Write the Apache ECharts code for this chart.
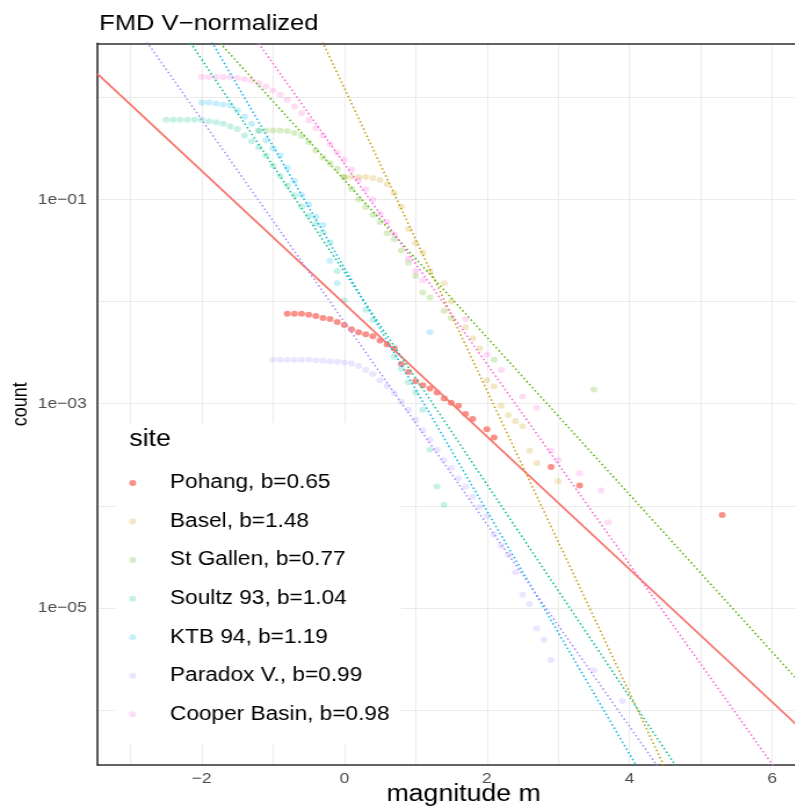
<!DOCTYPE html>
<html>
<head>
<meta charset="utf-8">
<script src="https://cdn.jsdelivr.net/npm/echarts@6/dist/echarts.min.js"></script>
<style>
html,body{margin:0;padding:0;background:#fff;overflow:hidden;}
#chart{width:686px;height:808px;transform:scaleX(1.16);transform-origin:0 0;}
</style>
</head>
<body>
<div id="chart"></div>
<script>
// ---------------- data ----------------
const siteNames = ['Pohang, b=0.65','Basel, b=1.48','St Gallen, b=0.77','Soultz 93, b=1.04','KTB 94, b=1.19','Paradox V., b=0.99','Cooper Basin, b=0.98'];
const bValues = [0.65, 1.48, 0.77, 1.04, 1.19, 0.99, 0.98];
// fitted Gutenberg-Richter intercepts: log10(count) at m = 0
const fitIntercepts = [-2.02, 0.09, -0.81, -1.71, -1.67, -2.20, -0.65];
const siteColors = ['#F8766D','#C49A00','#53B400','#00C094','#00B6EB','#A58AFF','#FB61D7'];

// observed normalized cumulative counts, as log10(count)
const pohangMag = [-0.8,-0.7,-0.6,-0.5,-0.4,-0.3,-0.2,-0.1,0.0,0.1,0.2,0.3,0.4,0.5,0.6,0.7,0.8,0.9,1.0,1.1,1.2,1.3,1.4,1.5,1.6,1.7,1.8,2.0,2.1,2.9,3.3,5.3];
const pohangLog = [-2.12,-2.12,-2.12,-2.13,-2.14,-2.16,-2.17,-2.20,-2.23,-2.27,-2.30,-2.32,-2.34,-2.38,-2.42,-2.46,-2.61,-2.69,-2.78,-2.82,-2.85,-2.89,-2.95,-2.99,-3.02,-3.10,-3.15,-3.25,-3.33,-3.62,-3.80,-4.09];

const baselMag = [0.0,0.1,0.2,0.3,0.4,0.5,0.6,0.7,0.8,0.9,1.0,1.1,1.2,1.4,1.5,1.7,1.8,1.9,2.0,2.1,2.2,2.3,2.4,2.5,2.6,2.7,3.0];
const baselLog = [-0.78,-0.78,-0.78,-0.78,-0.79,-0.81,-0.85,-0.94,-1.07,-1.29,-1.43,-1.52,-1.70,-1.82,-2.00,-2.25,-2.36,-2.46,-2.77,-2.83,-3.02,-3.11,-3.17,-3.22,-3.46,-3.58,-3.76];

const gallenMag = [-1.2,-1.1,-1.0,-0.9,-0.8,-0.7,-0.6,-0.5,-0.4,-0.3,-0.2,-0.1,0.0,0.1,0.2,0.3,0.4,0.5,0.6,0.7,0.8,0.9,1.0,1.1,1.2,1.4,1.5,2.1,3.5];
const gallenLog = [-0.325,-0.325,-0.325,-0.325,-0.33,-0.35,-0.38,-0.44,-0.52,-0.59,-0.645,-0.70,-0.78,-0.895,-1.0,-1.075,-1.15,-1.22,-1.33,-1.39,-1.50,-1.62,-1.75,-1.91,-1.96,-2.09,-2.16,-2.57,-2.86];

const soultzMag = [-2.5,-2.4,-2.3,-2.2,-2.1,-2.0,-1.9,-1.8,-1.7,-1.6,-1.5,-1.4,-1.3,-1.2,-1.1,-1.0,-0.9,-0.8,-0.7,-0.6,-0.5,-0.4,-0.3,-0.2,-0.1,0.0,0.3,0.4,0.7,0.8,0.9,1.0,1.1,1.2,1.3,1.4];
const soultzLog = [-0.22,-0.22,-0.22,-0.22,-0.22,-0.22,-0.234,-0.244,-0.26,-0.286,-0.31,-0.374,-0.43,-0.49,-0.57,-0.67,-0.77,-0.86,-0.96,-1.07,-1.16,-1.24,-1.32,-1.42,-1.70,-1.99,-2.08,-2.18,-2.54,-2.66,-2.79,-2.89,-3.06,-3.45,-3.81,-3.99];

const ktbMag = [-2.0,-1.9,-1.8,-1.7,-1.6,-1.5,-1.4,-1.3,-1.2,-1.1,-1.0,-0.9,-0.8,-0.7,-0.6,-0.5,-0.4,-0.3,-0.2,-0.1,1.2];
const ktbLog = [-0.05,-0.05,-0.06,-0.07,-0.08,-0.13,-0.19,-0.26,-0.33,-0.42,-0.50,-0.57,-0.69,-0.82,-0.96,-1.05,-1.17,-1.25,-1.60,-1.82,-2.30];

const paradoxMag = [-1.0,-0.9,-0.8,-0.7,-0.6,-0.5,-0.4,-0.3,-0.2,-0.1,0.0,0.1,0.2,0.3,0.4,0.5,0.6,0.7,0.8,0.9,1.0,1.1,1.2,1.3,1.4,1.5,1.6,1.7,1.8,1.9,2.0,2.1,2.2,2.3,2.4,2.5,2.6,2.7,2.8,2.9,3.5,3.9];
const paradoxLog = [-2.57,-2.57,-2.57,-2.57,-2.57,-2.57,-2.575,-2.58,-2.587,-2.59,-2.597,-2.607,-2.63,-2.67,-2.71,-2.77,-2.83,-2.895,-2.98,-3.06,-3.155,-3.26,-3.35,-3.45,-3.55,-3.63,-3.73,-3.81,-3.91,-4.01,-4.10,-4.28,-4.39,-4.48,-4.65,-4.87,-4.96,-5.20,-5.31,-5.51,-5.61,-5.91];

const cooperMag = [-2.0,-1.9,-1.8,-1.7,-1.6,-1.5,-1.4,-1.3,-1.2,-1.1,-1.0,-0.9,-0.8,-0.7,-0.6,-0.5,-0.4,-0.3,-0.2,-0.1,0.0,0.1,0.2,0.3,0.4,0.5,0.6,0.7,0.9,1.0,1.1,1.7,2.0,2.2,2.5,2.7,2.9,3.0,3.3,3.6,3.7];
const cooperLog = [0.2,0.2,0.2,0.2,0.2,0.19,0.18,0.164,0.137,0.105,0.066,0.024,-0.025,-0.09,-0.156,-0.227,-0.30,-0.374,-0.46,-0.54,-0.61,-0.71,-0.81,-0.90,-1.0,-1.14,-1.22,-1.34,-1.58,-1.70,-1.79,-2.17,-2.52,-2.67,-2.93,-3.04,-3.46,-3.55,-3.68,-3.85,-4.16];

const xTickValues = [-2, 0, 2, 4, 6];
const xTickLabels = ['\u22122', '0', '2', '4', '6'];
const yTickValues = [1e-1, 1e-3, 1e-5];
const yTickLabels = ['1e\u221201', '1e\u221203', '1e\u221205'];

// ---------------- chart ----------------
const X_MIN = -3.462, X_MAX = 6.807;
const Y_MIN = 2.904e-7, Y_MAX = 3.379;
const FONT = '"Liberation Sans", Arial, Helvetica, sans-serif';
const BORDER = { show: true, lineStyle: { color: '#333', width: 1.6 } };

const siteMags = [pohangMag, baselMag, gallenMag, soultzMag, ktbMag, paradoxMag, cooperMag];
const siteLogs = [pohangLog, baselLog, gallenLog, soultzLog, ktbLog, paradoxLog, cooperLog];

function rgba(hex, a) {
  const n = parseInt(hex.slice(1), 16);
  return 'rgba(' + ((n >> 16) & 255) + ',' + ((n >> 8) & 255) + ',' + (n & 255) + ',' + a + ')';
}

const series = [];
siteNames.forEach((name, i) => {
  series.push({
    name: name,
    type: 'scatter',
    symbol: 'circle',
    symbolSize: 6,
    silent: true,
    z: i === 0 ? 3 : 2,
    itemStyle: { color: i === 0 ? siteColors[0] : rgba(siteColors[i], 0.28) },
    data: siteMags[i].map((m, k) => [m, Math.pow(10, siteLogs[i][k])])
  });
});
siteNames.forEach((name, i) => {
  const a = fitIntercepts[i], b = bValues[i];
  series.push({
    name: name + ' fit',
    type: 'line',
    silent: true,
    showSymbol: false,
    symbol: 'none',
    clip: true,
    z: 4,
    lineStyle: {
      color: siteColors[i],
      width: i === 0 ? 1.8 : 1.5,
      type: i === 0 ? 'solid' : [1.5, 2.4]
    },
    data: [[X_MIN, Math.pow(10, a - b * X_MIN)], [X_MAX, Math.pow(10, a - b * X_MAX)]]
  });
});

const xLabelFormatter = function (v) {
  for (let k = 0; k < xTickValues.length; k++) {
    if (Math.abs(v - xTickValues[k]) < 1e-6) return xTickLabels[k];
  }
  return '';
};

const chart = echarts.init(document.getElementById('chart'));
chart.setOption({
  animation: false,
  backgroundColor: '#fff',
  textStyle: { fontFamily: FONT },
  title: [
    { text: 'FMD V\u2212normalized', left: 80.6, top: 8.2,
      textStyle: { fontFamily: FONT, fontSize: 22, fontWeight: 'normal', color: '#000' } },
    { text: 'site', left: 106.5, top: 423.2, z: 10,
      textStyle: { fontFamily: FONT, fontSize: 23, fontWeight: 'normal', color: '#000' } }
  ],
  legend: {
    orient: 'vertical',
    left: 99.1,
    top: 423,
    padding: [50, 10, 20, 12.3],
    backgroundColor: '#fff',
    itemWidth: 6,
    itemHeight: 6,
    itemGap: 18.55,
    icon: 'circle',
    data: siteNames,
    selectedMode: false,
    textStyle: { fontFamily: FONT, fontSize: 19.5, lineHeight: 20, color: '#000', padding: [0, 0, 0, 24.2] }
  },
  grid: {
    left: 84.05, right: -29.2, top: 43.3, bottom: 43,
    containLabel: false,
    outerBoundsMode: 'none',
    show: false
  },
  xAxis: [{
    type: 'value',
    min: X_MIN, max: X_MAX,
    splitNumber: 10,
    name: 'magnitude m',
    nameLocation: 'middle',
    nameGap: 18.5,
    nameMoveOverlap: false,
    nameTextStyle: { fontFamily: FONT, fontSize: 23, color: '#000', verticalAlign: 'top' },
    axisLine: Object.assign({ onZero: false }, BORDER),
    axisTick: { show: false },
    axisLabel: {
      fontFamily: FONT, fontSize: 15, color: '#4D4D4D', margin: 6.3,
      showMinLabel: true, showMaxLabel: true,
      formatter: xLabelFormatter
    },
    splitLine: { show: true, lineStyle: { color: '#EBEBEB', width: 1 } }
  }, {
    type: 'value',
    position: 'top',
    min: X_MIN, max: X_MAX,
    axisLine: Object.assign({ onZero: false }, BORDER),
    axisTick: { show: false },
    axisLabel: { show: false },
    splitLine: { show: false }
  }],
  yAxis: {
    type: 'log',
    logBase: 10,
    min: Y_MIN, max: Y_MAX,
    splitNumber: 10,
    name: 'count',
    nameLocation: 'middle',
    nameGap: 57,
    nameRotate: 90,
    nameMoveOverlap: false,
    nameTextStyle: { fontFamily: FONT, fontSize: 18, color: '#000' },
    axisLine: Object.assign({ onZero: false }, BORDER),
    axisTick: { show: false },
    axisLabel: {
      fontFamily: FONT, fontSize: 15, color: '#4D4D4D', margin: 9.3,
      formatter: function (v) {
        for (let k = 0; k < yTickValues.length; k++) {
          if (Math.abs(Math.log10(v) - Math.log10(yTickValues[k])) < 1e-6) return yTickLabels[k];
        }
        return '';
      }
    },
    splitLine: { show: true, lineStyle: { color: '#EBEBEB', width: 1 } }
  },
  series: series
});
</script>
</body>
</html>
